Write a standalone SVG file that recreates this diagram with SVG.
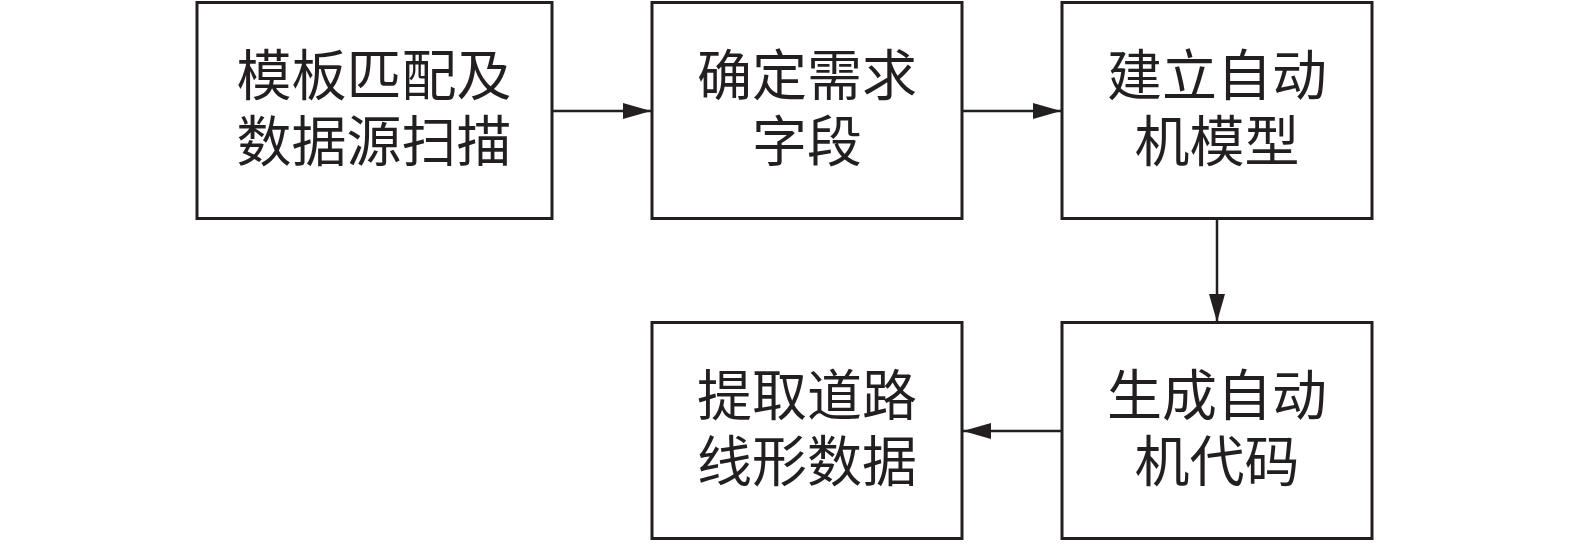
<svg xmlns="http://www.w3.org/2000/svg" width="1575" height="543" viewBox="0 0 1575 543">
<style>
.box{fill:#fff;stroke:#231f20;stroke-width:3}
.t{font-family:"Noto Sans CJK SC","Noto Sans CJK JP",sans-serif;font-size:55px;fill:#231f20;text-anchor:middle}
.c{stroke:#231f20;stroke-width:2.5;fill:none}
</style>
<defs>
<marker id="ah" markerUnits="userSpaceOnUse" markerWidth="28" markerHeight="16" refX="28" refY="8" orient="auto">
<path d="M0,0 L28,8 L0,16 Z" fill="#231f20"/>
</marker>
</defs>
<rect width="1575" height="543" fill="#fff"/>
<g id="n1"><rect class="box" x="197" y="2.5" width="355" height="216"/><text class="t" x="374" y="95">模板匹配及<tspan x="374" dy="66">数据源扫描</tspan></text></g>
<g id="n2"><rect class="box" x="652" y="2.5" width="310" height="216"/><text class="t" x="807" y="95">确定需求<tspan x="807" dy="66">字段</tspan></text></g>
<g id="n3"><rect class="box" x="1062" y="2.5" width="310" height="216"/><text class="t" x="1217" y="95">建立自动<tspan x="1217" dy="66">机模型</tspan></text></g>
<g id="n4"><rect class="box" x="1062" y="322.5" width="310" height="216"/><text class="t" x="1217" y="415">生成自动<tspan x="1217" dy="66">机代码</tspan></text></g>
<g id="n5"><rect class="box" x="652" y="322.5" width="310" height="216"/><text class="t" x="807" y="415">提取道路<tspan x="807" dy="66">线形数据</tspan></text></g>
<g id="connectors">
<line class="c" x1="552" y1="111" x2="651" y2="111" marker-end="url(#ah)"/>
<line class="c" x1="962" y1="111" x2="1061" y2="111" marker-end="url(#ah)"/>
<line class="c" x1="1217" y1="219" x2="1217" y2="322" marker-end="url(#ah)"/>
<line class="c" x1="1061" y1="431" x2="963" y2="431" marker-end="url(#ah)"/>
</g>
</svg>
